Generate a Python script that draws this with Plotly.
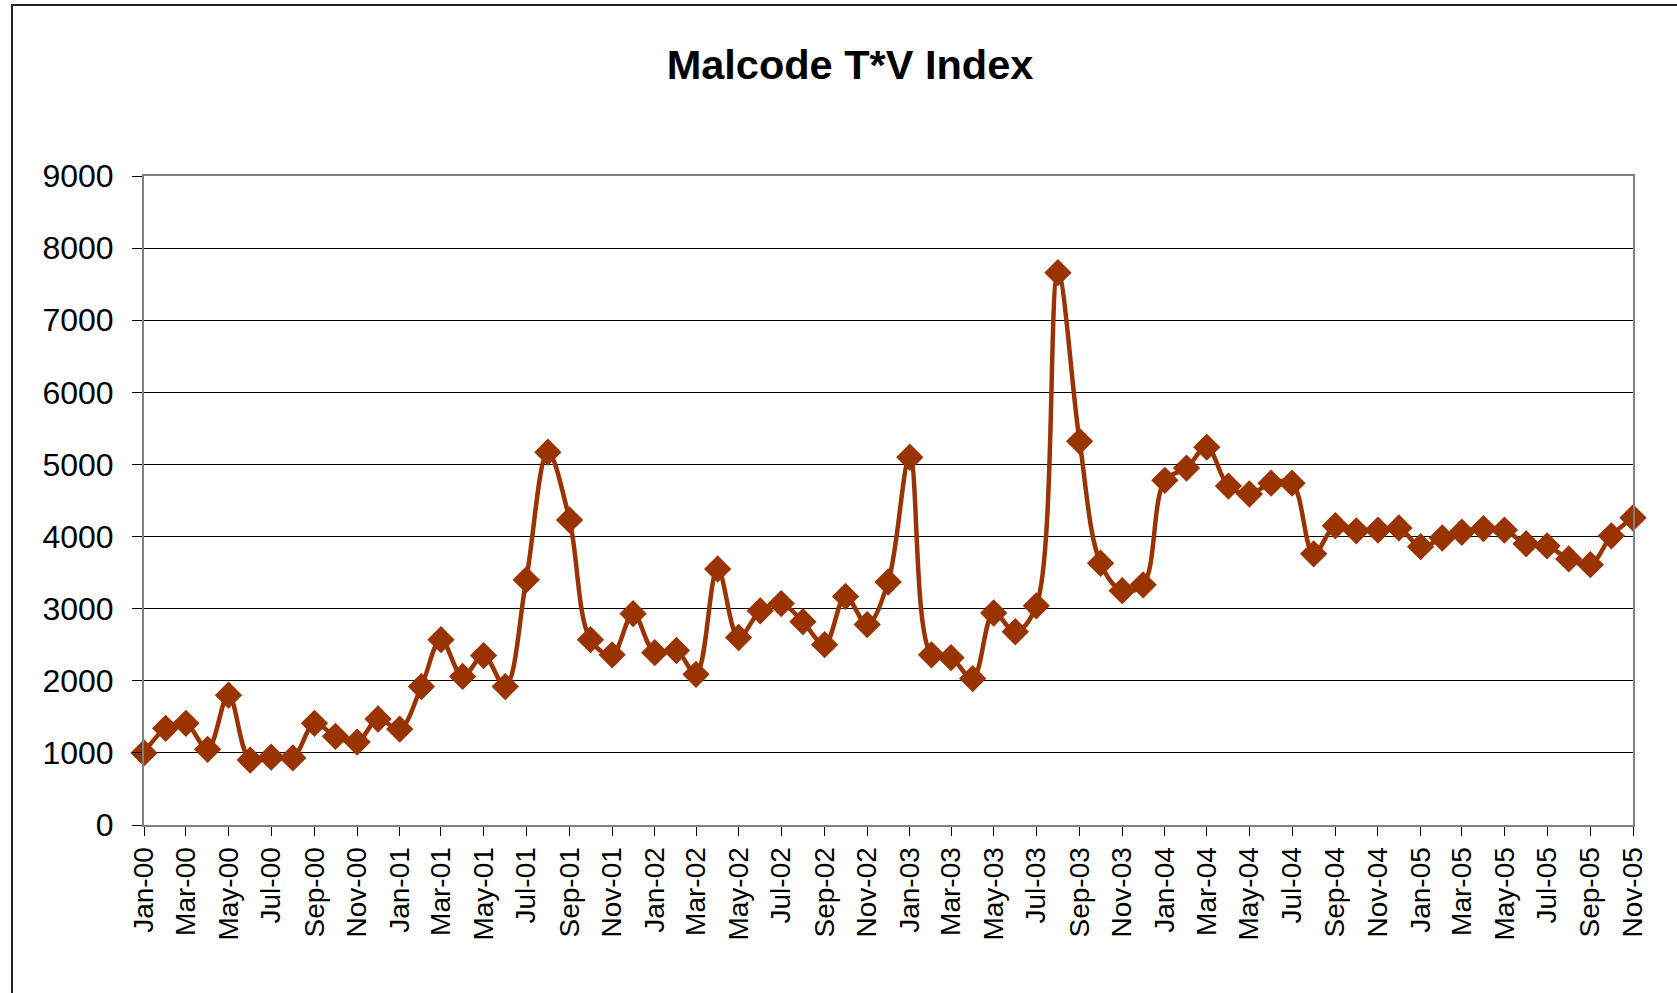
import plotly.graph_objects as go
import pandas as pd

# Monthly index values, Jan 2000 through Nov 2005
months = pd.date_range("2000-01-01", "2005-11-01", freq="MS")
values_2000 = [1000, 1340, 1410, 1050, 1800, 900, 940, 930, 1410, 1230, 1150, 1470]
values_2001 = [1330, 1920, 2570, 2060, 2350, 1920, 3400, 5170, 4230, 2570, 2360, 2930]
values_2002 = [2390, 2420, 2090, 3550, 2600, 2970, 3070, 2820, 2500, 3170, 2780, 3370]
values_2003 = [5100, 2360, 2320, 2030, 2940, 2680, 3040, 7660, 5320, 3630, 3250, 3330]
values_2004 = [4780, 4950, 5240, 4700, 4590, 4740, 4740, 3760, 4150, 4080, 4090, 4120]
values_2005 = [3860, 3980, 4060, 4110, 4090, 3900, 3870, 3690, 3610, 4010, 4260]
tv_index = values_2000 + values_2001 + values_2002 + values_2003 + values_2004 + values_2005

y_ticks = list(range(0, 9001, 1000))

W, H = 1677, 993
ML, MR, MT, MB = 144, 44, 176, 168
pw, ph = W - ML - MR, H - MT - MB

line_color = "#993300"
font_family = "Liberation Sans, Arial, Helvetica, sans-serif"

fig = go.Figure()
fig.add_trace(go.Scatter(
    x=months,
    y=tv_index,
    mode="lines+markers",
    line=dict(color=line_color, width=4.5, shape="spline", smoothing=1),
    marker=dict(symbol="diamond", size=21, color=line_color),
    cliponaxis=False,
    showlegend=False,
))

# outer chart border
fig.add_shape(
    type="rect", xref="paper", yref="paper",
    x0=(12 - ML) / pw, x1=(W + 10 - ML) / pw,
    y0=-(MB + 10) / ph, y1=1 + (MT - 5) / ph,
    line=dict(color="#222222", width=2), fillcolor="rgba(0,0,0,0)",
    layer="below",
)

fig.update_layout(
    width=W, height=H,
    margin=dict(l=ML, r=MR, t=MT, b=MB, pad=0),
    paper_bgcolor="white",
    plot_bgcolor="white",
    font=dict(family=font_family, color="black"),
    title=dict(
        text="<b>Malcode T*V Index</b>",
        x=850 / W, xref="container", xanchor="center",
        y=1 - 64 / H, yref="container", yanchor="middle",
        font=dict(size=41.5, family=font_family, color="black"),
    ),
)

fig.update_xaxes(
    type="date",
    range=[months[0], months[-1]],
    tick0="2000-01-01",
    dtick="M2",
    tickformat="%b-%y",
    tickangle=-90,
    ticks="outside",
    ticklen=9,
    tickcolor="black",
    tickwidth=1,
    tickfont=dict(size=28, family=font_family, color="black"),
    showgrid=False,
    showline=True,
    linecolor="#808080",
    linewidth=2,
    mirror=True,
    zeroline=False,
)

fig.update_yaxes(
    range=[0, 9000],
    tickvals=y_ticks,
    ticktext=[str(v) for v in y_ticks],
    ticks="outside",
    ticklen=10,
    tickcolor="black",
    tickwidth=1,
    ticklabelstandoff=12,
    tickfont=dict(size=32, family=font_family, color="black"),
    showgrid=True,
    gridcolor="black",
    gridwidth=1,
    showline=True,
    linecolor="#808080",
    linewidth=2,
    mirror=True,
    zeroline=False,
)

fig.write_html("out.html")
